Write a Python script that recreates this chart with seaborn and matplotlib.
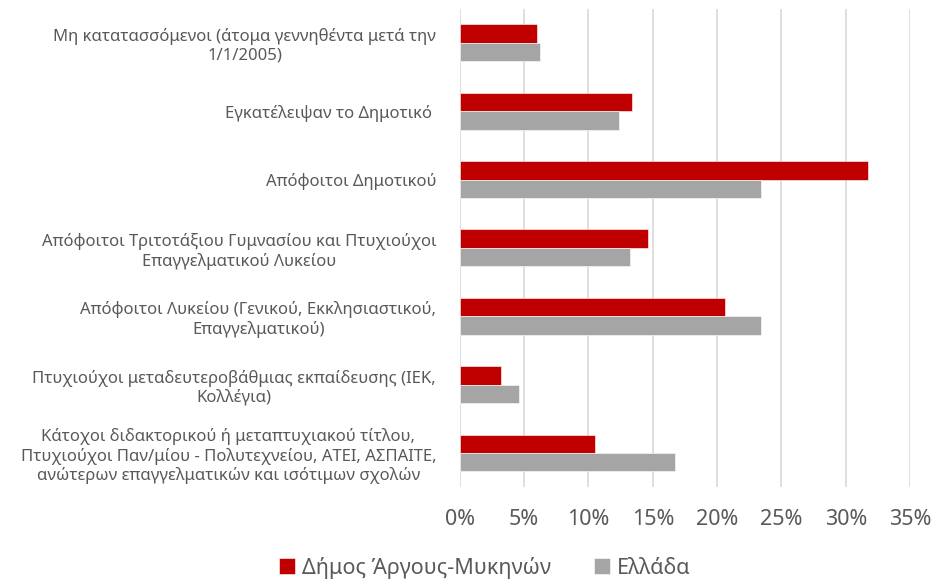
import pandas as pd
import seaborn as sb
import matplotlib.pyplot as plt
from matplotlib.ticker import PercentFormatter

categories = [
    "Μη κατατασσόμενοι (άτομα γεννηθέντα μετά την\n1/1/2005)",
    "Εγκατέλειψαν το Δημοτικό ",
    "Απόφοιτοι Δημοτικού",
    "Απόφοιτοι Τριτοτάξιου Γυμνασίου και Πτυχιούχοι\nΕπαγγελματικού Λυκείου",
    "Απόφοιτοι Λυκείου (Γενικού, Εκκλησιαστικού,\nΕπαγγελματικού)",
    "Πτυχιούχοι μεταδευτεροβάθμιας εκπαίδευσης (ΙΕΚ,\nΚολλέγια)",
    "Κάτοχοι διδακτορικού ή μεταπτυχιακού τίτλου,\nΠτυχιούχοι Παν/μίου - Πολυτεχνείου, ΑΤΕΙ, ΑΣΠΑΙΤΕ,\nανώτερων επαγγελματικών και ισότιμων σχολών",
]
series = ["Δήμος Άργους-Μυκηνών", "Ελλάδα"]
argos = [6.0, 13.4, 31.7, 14.6, 20.6, 3.2, 10.5]
greece = [6.2, 12.4, 23.4, 13.2, 23.4, 4.6, 16.7]

colors = ["#C00000", "#A5A5A5"]
text_color = "#595959"


def plot_education():
    df = pd.DataFrame({
        "Category": categories * 2,
        "Share": argos + greece,
        "Series": [series[0]] * len(categories) + [series[1]] * len(categories),
    })

    sb.set_style("white")
    plt.rcParams["font.family"] = ["Noto Sans", "DejaVu Sans"]

    fig = plt.figure(figsize=(9.5, 5.82), dpi=100)
    ax = fig.add_axes([0.484, 0.163, 0.474, 0.822])

    sb.barplot(
        data=df, y="Category", x="Share", hue="Series",
        palette=colors, saturation=1, orient="h", width=0.54,
        edgecolor="white", linewidth=0.4, errorbar=None, ax=ax,
    )

    ax.set_xlim(0, 35)
    ax.set_xticks(range(0, 36, 5))
    ax.xaxis.set_major_formatter(PercentFormatter(decimals=0))
    ax.set_xlabel("")
    ax.set_ylabel("")

    ax.set_axisbelow(True)
    ax.grid(True, axis="x", color="#D9D9D9", linewidth=1.2)
    for s in ax.spines.values():
        s.set_visible(False)

    ax.tick_params(axis="x", length=0, labelsize=15.5, labelcolor=text_color, pad=16)
    ax.tick_params(axis="y", length=0, labelsize=12, labelcolor=text_color, pad=17)
    for lbl in ax.get_yticklabels():
        lbl.set_multialignment("center")

    ax.legend(
        loc="upper center", bbox_to_anchor=(0.055, -0.118), ncol=2,
        frameon=False, fontsize=15.5, labelcolor=text_color,
        handlelength=0.75, handleheight=0.75, handletextpad=0.3,
        columnspacing=2.0, borderpad=0.1,
    )

    fig.savefig("out.png", dpi=100)


def main():
    plot_education()


if __name__ == "__main__":
    main()
